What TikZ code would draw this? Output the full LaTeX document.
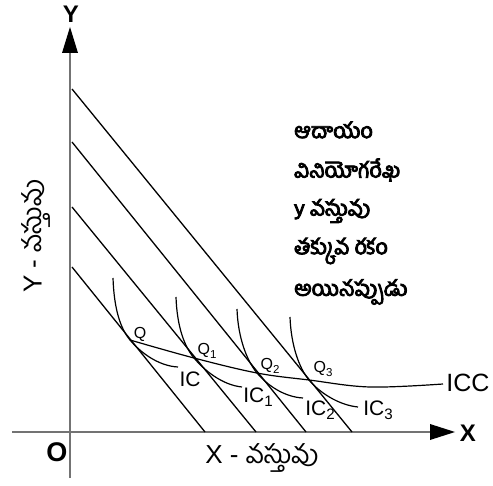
\documentclass[tikz,border=0pt]{standalone}
\usepackage{fontspec}
\setmainfont{Liberation Sans}
\newfontfamily\tel[Script=Telugu]{Hind Guntur}
\newfontfamily\telb[Script=Telugu,FakeBold=4]{Hind Guntur}
\newcommand\lsub[1]{\raisebox{-0.4ex}{\scalebox{0.72}{#1}}}
\begin{document}
\begin{tikzpicture}[x=1pt,y=-1pt,
  axis/.style={draw=black!55,line width=1.8pt},
  bline/.style={draw=black,line width=1.3pt},
  curve/.style={draw=black,line width=1.2pt},
  qlab/.style={font=\fontsize{16}{16}\selectfont,inner sep=0pt},
  iclab/.style={font=\fontsize{21}{21}\selectfont,inner sep=0pt},
  axlab/.style={font=\fontsize{24}{24}\selectfont\bfseries,inner sep=0pt},
  teltxt/.style={font=\telb\fontsize{21.5}{21.5}\selectfont,inner sep=0pt,anchor=west}]
\useasboundingbox (0,0) rectangle (493,486);
% axes
\coordinate (o) at (70,432);
\coordinate (ytop) at (70,27);
\coordinate (ybot) at (70,478);
\coordinate (xl) at (12,432);
\coordinate (xr) at (455,432);
\draw[axis] (ybot) -- (70,50);
\draw[axis] (xl) -- (432,432);
\fill (ytop) -- (62,53) -- (78,53) -- cycle;
\fill (xr) -- (430,424) -- (430,440) -- cycle;
\node[axlab] (ylab) at (71,14) {Y};
\node[axlab] (xlab) at (468,433) {X};
\node[axlab,font=\fontsize{27}{27}\selectfont\bfseries] (olab) at (57,452) {O};
% budget lines
\coordinate (a1) at (72,89);  \coordinate (b1) at (352,432);
\coordinate (a2) at (72,142); \coordinate (b2) at (306,432);
\coordinate (a3) at (72,207); \coordinate (b3) at (256,432);
\coordinate (a4) at (72,267); \coordinate (b4) at (205,432);
\foreach \i in {1,2,3,4} \draw[bline] (a\i) -- (b\i);
% tangency points
\coordinate (q0) at (130,340);
\coordinate (q1) at (194,358);
\coordinate (q2) at (257,373);
\coordinate (q3) at (309,380);
% indifference curves
\draw[curve] (113,278) .. controls (114,308) and (120,328) .. (q0)
  .. controls (140,352) and (158,366) .. (178,367);
\draw[curve] (176,297) .. controls (177,326) and (184,346) .. (q1)
  .. controls (204,370) and (222,385) .. (242,387);
\draw[curve] (237,309) .. controls (238,338) and (247,361) .. (q2)
  .. controls (267,385) and (284,397) .. (303,398);
\draw[curve] (290,317) .. controls (291,345) and (299,368) .. (q3)
  .. controls (319,392) and (338,405) .. (358,407);
% ICC
\coordinate (iccend) at (443,384);
\draw[curve] plot[smooth,tension=0.6] coordinates {(q0) (q1) (q2) (q3) (370,387) (iccend)};
% labels
\node[qlab] (lq0) at (140,334) {Q};
\node[qlab] (lq1) at (207,351) {Q\lsub{1}};
\node[qlab] (lq2) at (270,366) {Q\lsub{2}};
\node[qlab] (lq3) at (323,369) {Q\lsub{3}};
\node[iclab] (lic0) at (190,379) {IC};
\node[iclab] (lic1) at (258,397) {IC\lsub{1}};
\node[iclab] (lic2) at (320,410) {IC\lsub{2}};
\node[iclab] (lic3) at (378,410) {IC\lsub{3}};
\node[iclab,font=\fontsize{25}{25}\selectfont] (licc) at (468,383) {ICC};
% axis titles
\node[inner sep=0pt,font=\fontsize{26}{26}\selectfont] (xtitle) at (262,458) {X - {\tel వస్తువు}};
\node[inner sep=0pt,font=\fontsize{26}{26}\selectfont,rotate=90] (ytitle) at (36,236) {Y - {\tel వస్తువు}};
% right text
\node[teltxt] (t1) at (294,130) {ఆదాయం};
\node[teltxt] (t2) at (294,170) {వినియోగరేఖ};
\node[teltxt] (t3) at (294,211) {y వస్తువు};
\node[teltxt] (t4) at (294,251) {తక్కువ రకం};
\node[teltxt] (t5) at (294,292) {అయినప్పుడు};
\end{tikzpicture}
\end{document}
